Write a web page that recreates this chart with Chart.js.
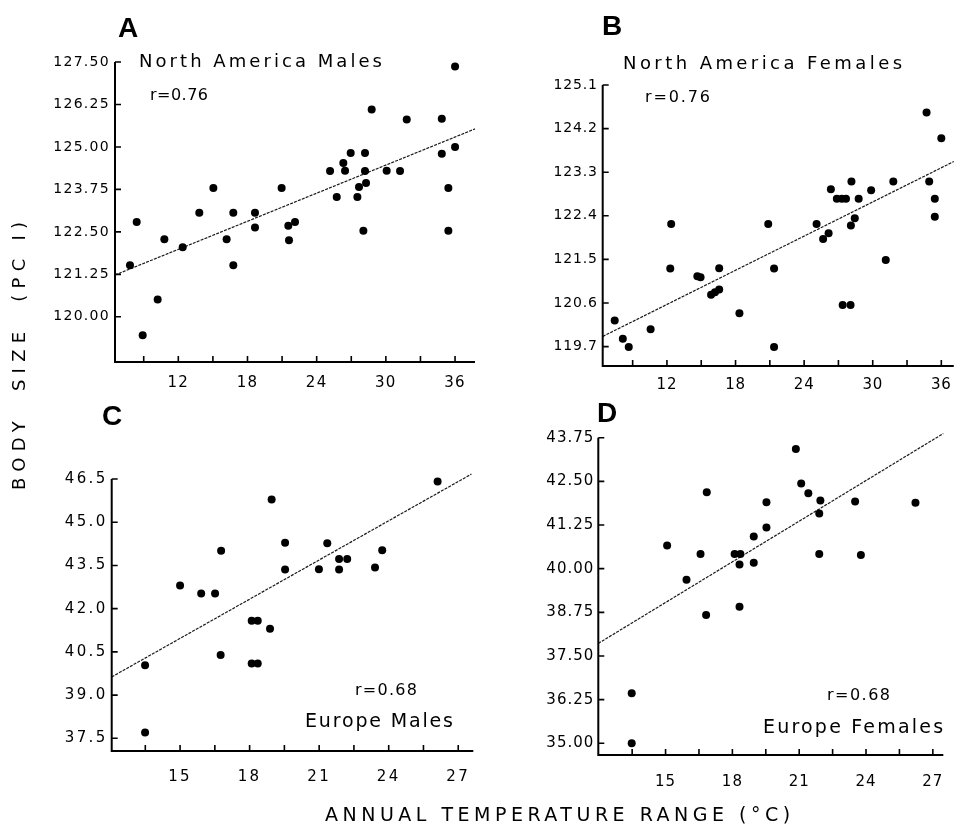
<!DOCTYPE html>
<html>
<head>
<meta charset="utf-8">
<script src="https://cdn.jsdelivr.net/npm/chart.js@4"></script>
<style>
html,body{margin:0;padding:0;background:#fff;}
#wrap{position:relative;width:961px;height:830px;overflow:hidden;background:#fff;}
#wrap canvas{position:absolute;left:0;top:0;}
</style>
</head>
<body>
<div id="wrap">
<canvas id="cA" width="961" height="830"></canvas>
<canvas id="cB" width="961" height="830"></canvas>
<canvas id="cC" width="961" height="830"></canvas>
<canvas id="cD" width="961" height="830"></canvas>
</div>
<script>
// ---------- Panel A: North America Males ----------
const xA = [7.81, 8.39, 8.91, 10.21, 10.79, 12.38, 13.82, 15.04, 16.19, 16.77, 16.77, 18.65, 18.65, 20.96, 21.54, 22.12, 21.60, 25.16, 25.74, 26.31, 26.46, 26.95, 27.53, 27.67, 28.19, 28.19, 28.28, 28.05, 28.77, 30.07, 31.23, 31.81, 34.85, 34.85, 35.42, 35.42, 36.00, 36.00];
const yA = [121.52, 122.79, 119.46, 120.51, 122.28, 122.05, 123.06, 123.79, 122.28, 123.06, 121.52, 123.06, 122.63, 123.79, 122.68, 122.79, 122.25, 124.29, 123.53, 124.53, 124.30, 124.82, 123.53, 123.82, 124.82, 124.29, 123.94, 122.53, 126.10, 124.30, 124.29, 125.81, 125.83, 124.80, 123.79, 122.53, 125.00, 127.37];
const fitXA = [6.51, 37.73];
const fitYA = [121.23, 125.53];
const xTicksA = [9, 12, 15, 18, 21, 24, 27, 30, 33, 36];
const xLabelsA = ['', '12', '', '18', '', '24', '', '30', '', '36'];
const yTicksA = [120.00, 121.25, 122.50, 123.75, 125.00, 126.25, 127.50];
const yLabelsA = ['120.00', '121.25', '122.50', '123.75', '125.00', '126.25', '127.50'];

// ---------- Panel B: North America Females ----------
const xB = [7.43, 8.14, 8.66, 10.57, 12.37, 12.29, 14.66, 14.94, 16.57, 15.86, 16.20, 16.57, 18.34, 20.86, 21.37, 21.37, 25.09, 25.66, 26.14, 26.34, 26.86, 27.29, 27.66, 28.14, 28.09, 28.43, 28.77, 27.37, 28.06, 29.86, 31.14, 31.80, 34.71, 34.94, 35.43, 35.43, 36.00, 36.00];
const yB = [120.24, 119.86, 119.69, 120.06, 122.23, 121.31, 121.15, 121.13, 121.32, 120.77, 120.82, 120.88, 120.39, 122.23, 121.31, 119.69, 122.23, 121.92, 122.04, 122.95, 122.75, 122.75, 122.75, 123.11, 122.20, 122.35, 122.75, 120.56, 120.56, 122.93, 121.49, 123.11, 124.53, 123.11, 122.75, 122.38, 124.00, 125.46];
const fitXB = [6.38, 37.09];
const fitYB = [119.91, 123.52];
const xTicksB = [9, 12, 15, 18, 21, 24, 27, 30, 33, 36];
const xLabelsB = ['', '12', '', '18', '', '24', '', '30', '', '36'];
const yTicksB = [119.7, 120.6, 121.5, 122.4, 123.3, 124.2, 125.1];
const yLabelsB = ['119.7', '120.6', '121.5', '122.4', '123.3', '124.2', '125.1'];

// ---------- Panel C: Europe Males ----------
const xC = [13.49, 13.49, 15.00, 15.91, 16.51, 16.77, 16.75, 18.09, 18.35, 18.09, 18.35, 18.88, 18.95, 19.53, 19.53, 20.71, 20.99, 21.35, 21.86, 21.86, 22.21, 23.41, 23.72, 26.11];
const yC = [40.04, 37.70, 42.80, 42.53, 42.53, 44.01, 40.39, 41.58, 41.58, 40.10, 40.10, 41.30, 45.79, 44.29, 43.36, 46.70, 43.37, 44.27, 43.72, 43.36, 43.72, 43.43, 44.03, 46.41];
const fitXC = [12.05, 27.57];
const fitYC = [39.63, 46.67];
const xTicksC = [13.5, 15, 16.5, 18, 19.5, 21, 22.5, 24, 25.5, 27];
const xLabelsC = ['', '15', '', '18', '', '21', '', '24', '', '27'];
const yTicksC = [37.5, 39.0, 40.5, 42.0, 43.5, 45.0, 46.5];
const yLabelsC = ['37.5', '39.0', '40.5', '42.0', '43.5', '45.0', '46.5'];

// ---------- Panel D: Europe Females ----------
const xD = [13.48, 13.48, 15.07, 15.94, 16.57, 16.85, 16.82, 18.10, 18.36, 18.32, 18.32, 18.96, 18.96, 19.53, 19.53, 20.85, 21.09, 21.41, 21.95, 21.90, 21.90, 23.51, 23.77, 26.22];
const yD = [36.43, 35.00, 40.66, 39.68, 40.42, 42.19, 38.67, 40.42, 40.42, 40.12, 38.91, 40.92, 40.17, 41.90, 41.18, 43.43, 42.44, 42.16, 41.95, 41.58, 40.42, 41.92, 40.39, 41.89];
const fitXD = [11.98, 27.47];
const fitYD = [37.86, 43.87];
const xTicksD = [13.5, 15, 16.5, 18, 19.5, 21, 22.5, 24, 25.5, 27];
const xLabelsD = ['', '15', '', '18', '', '21', '', '24', '', '27'];
const yTicksD = [35.00, 36.25, 37.50, 38.75, 40.00, 41.25, 42.50, 43.75];
const yLabelsD = ['35.00', '36.25', '37.50', '38.75', '40.00', '41.25', '42.50', '43.75'];

// ---------- Text ----------
const yAxisTitle = 'BODY  SIZE  (PC I)';
const xAxisTitle = 'ANNUAL TEMPERATURE RANGE (\u00B0C)';

const FONT = '"DejaVu Sans", "Liberation Sans", sans-serif';
const BOLD = 'bold 28px "Liberation Sans", "DejaVu Sans", sans-serif';

function drawSpaced(ctx, t) {
  ctx.save();
  ctx.font = t.font;
  ctx.fillStyle = '#000';
  ctx.textAlign = 'left';
  ctx.textBaseline = 'alphabetic';
  const hasLS = ('letterSpacing' in ctx);
  if (hasLS) ctx.letterSpacing = '0px';
  if (t.w && hasLS) {
    const w0 = ctx.measureText(t.text).width;
    const ls = (t.w - w0) / Math.max(1, t.text.length - 1);
    ctx.letterSpacing = ls.toFixed(2) + 'px';
  }
  if (t.rot) {
    ctx.translate(t.x, t.y);
    ctx.rotate(-Math.PI / 2);
    ctx.fillText(t.text, 0, 0);
  } else {
    ctx.fillText(t.text, t.x, t.y);
  }
  ctx.restore();
}

const panelPlugin = {
  id: 'panelDeco',
  beforeDraw(chart, args, opts) {
    if ('letterSpacing' in chart.ctx) chart.ctx.letterSpacing = (opts.tickLS || 0) + 'px';
  },
  afterDatasetsDraw(chart, args, opts) {
    const ctx = chart.ctx;
    const xs = chart.scales.x, ys = chart.scales.y;
    const a = chart.chartArea;
    ctx.save();
    ctx.strokeStyle = '#000';
    ctx.lineWidth = 2;
    ctx.lineCap = 'butt';
    ctx.beginPath();
    ctx.moveTo(a.left, a.top);
    ctx.lineTo(a.left, a.bottom);
    ctx.lineTo(a.right, a.bottom);
    ctx.stroke();
    ctx.lineWidth = 1.6;
    ctx.beginPath();
    ys.ticks.forEach(tk => {
      const py = ys.getPixelForValue(tk.value);
      ctx.moveTo(a.left, py);
      ctx.lineTo(a.left + 6, py);
    });
    xs.ticks.forEach(tk => {
      const px = xs.getPixelForValue(tk.value);
      ctx.moveTo(px, a.bottom);
      ctx.lineTo(px, a.bottom - 6);
    });
    ctx.stroke();
    ctx.restore();
  },
  afterDraw(chart, args, opts) {
    (opts.texts || []).forEach(t => drawSpaced(chart.ctx, t));
  }
};

function makePanel(id, xs, ys, fitX, fitY, xTicks, xLabels, yTicks, yLabels, cfg) {
  const pts = xs.map((x, i) => ({x: x, y: ys[i]}));
  const fit = fitX.map((x, i) => ({x: x, y: fitY[i]}));
  return new Chart(document.getElementById(id), {
    type: 'scatter',
    data: {
      datasets: [
        {data: fit, showLine: true, pointRadius: 0, borderColor: '#1a1a1a', borderWidth: 1.2, borderDash: [3, 1.2], clip: false, order: 2},
        {data: pts, pointRadius: 4, pointHoverRadius: 4, backgroundColor: '#000', borderColor: '#000', borderWidth: 0, clip: false, order: 1}
      ]
    },
    plugins: [panelPlugin],
    options: {
      responsive: false,
      animation: false,
      events: [],
      devicePixelRatio: 1,
      layout: {padding: cfg.pad},
      plugins: {
        legend: {display: false},
        tooltip: {enabled: false},
        panelDeco: {texts: cfg.texts, tickLS: cfg.tickLS}
      },
      scales: {
        x: {
          type: 'linear', min: cfg.xr[0], max: cfg.xr[1],
          grid: {display: false, drawTicks: false},
          border: {display: false},
          afterFit(s) { s.height = 40; },
          afterBuildTicks(s) { s.ticks = xTicks.map(v => ({value: v})); },
          ticks: {
            autoSkip: false, maxRotation: 0, minRotation: 0,
            padding: cfg.xPad, color: '#000',
            font: {family: FONT, size: cfg.xFont},
            callback: (v, i) => xLabels[i]
          }
        },
        y: {
          type: 'linear', min: cfg.yr[0], max: cfg.yr[1],
          grid: {display: false, drawTicks: false},
          border: {display: false},
          afterFit(s) { s.width = 70; },
          afterBuildTicks(s) { s.ticks = yTicks.map(v => ({value: v})); },
          ticks: {
            autoSkip: false, padding: cfg.yPad, color: '#000',
            font: {family: FONT, size: cfg.yFont},
            callback: (v, i) => yLabels[i]
          }
        }
      }
    }
  });
}

makePanel('cA', xA, yA, fitXA, fitYA, xTicksA, xLabelsA, yTicksA, yLabelsA, {
  pad: {left: 45, right: 486, top: 62, bottom: 428},
  xr: [6.51, 37.73], yr: [118.67, 127.5],
  xPad: 12, yPad: 5, xFont: 15, yFont: 14, tickLS: 1.3,
  texts: [
    {text: 'A', x: 118, y: 37, font: BOLD},
    {text: 'North America Males', x: 139, y: 67, font: '18px ' + FONT, w: 243},
    {text: 'r=0.76', x: 150, y: 100, font: '16px ' + FONT, w: 58},
    {text: yAxisTitle, x: 25, y: 490, font: '18px ' + FONT, w: 268, rot: true},
    {text: xAxisTitle, x: 325, y: 821, font: '19px ' + FONT, w: 465}
  ]
});

makePanel('cB', xB, yB, fitXB, fitYB, xTicksB, xLabelsB, yTicksB, yLabelsB, {
  pad: {left: 532.7, right: 0, top: 85, bottom: 424},
  xr: [6.38, 37.09], yr: [119.30, 125.1],
  xPad: 10, yPad: 5, xFont: 15, yFont: 14, tickLS: 0.8,
  texts: [
    {text: 'B', x: 602, y: 35, font: BOLD},
    {text: 'North America Females', x: 623, y: 68.5, font: '18px ' + FONT, w: 279},
    {text: 'r=0.76', x: 645, y: 102, font: '16px ' + FONT, w: 65}
  ]
});

makePanel('cC', xC, yC, fitXC, fitYC, xTicksC, xLabelsC, yTicksC, yLabelsC, {
  pad: {left: 41.7, right: 487.7, top: 479, bottom: 39},
  xr: [12.05, 27.65], yr: [37.06, 46.5],
  xPad: 17.5, yPad: 4, xFont: 15, yFont: 15, tickLS: 2.4,
  texts: [
    {text: 'C', x: 102, y: 425, font: BOLD},
    {text: 'r=0.68', x: 355, y: 695, font: '16px ' + FONT, w: 62},
    {text: 'Europe Males', x: 305, y: 727, font: '19px ' + FONT, w: 148}
  ]
});

makePanel('cD', xD, yD, fitXD, fitYD, xTicksD, xLabelsD, yTicksD, yLabelsD, {
  pad: {left: 528.3, right: 0, top: 437.7, bottom: 35},
  xr: [11.98, 27.47], yr: [34.665, 43.75],
  xPad: 18.5, yPad: 4, xFont: 15, yFont: 15, tickLS: 1,
  texts: [
    {text: 'D', x: 597, y: 422, font: BOLD},
    {text: 'r=0.68', x: 827, y: 700, font: '16px ' + FONT, w: 63},
    {text: 'Europe Females', x: 763, y: 733, font: '19px ' + FONT, w: 180}
  ]
});
</script>
</body>
</html>
